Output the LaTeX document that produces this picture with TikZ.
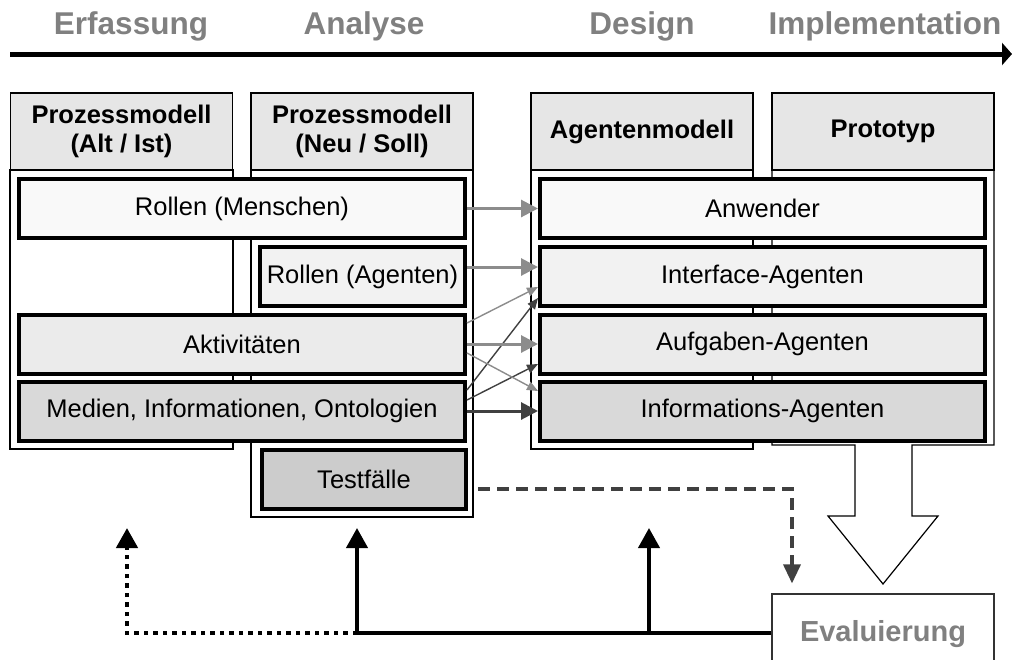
\documentclass[tikz,border=0pt]{standalone}
\usepackage{fontspec}
\setmainfont{Liberation Sans}
\usetikzlibrary{arrows.meta,calc}

\definecolor{titlegray}{HTML}{808080}
\definecolor{headfill}{HTML}{E6E6E6}
\definecolor{fillA}{HTML}{F9F9F9}
\definecolor{fillB}{HTML}{F2F2F2}
\definecolor{fillC}{HTML}{EBEBEB}
\definecolor{fillD}{HTML}{D9D9D9}
\definecolor{fillE}{HTML}{CCCCCC}
\definecolor{linkgray}{HTML}{8C8C8C}
\definecolor{linkdark}{HTML}{404040}

\tikzset{
  phase/.style={anchor=base, text=titlegray, font=\fontsize{31.5}{36}\selectfont\bfseries},
  colhead/.style={draw=black, line width=1.2pt, fill=headfill, minimum width=222pt,
    minimum height=77pt, align=center, inner sep=0pt,
    font=\fontsize{25.5}{29.5}\selectfont\bfseries},
  colbody/.style={draw=black, line width=1.2pt, fill=white},
  itembox/.style={draw=black, line width=4pt, minimum height=59pt, inner sep=0pt,
    font=\fontsize{25.5}{29}\selectfont},
  wide/.style={itembox, minimum width=446pt},
  narrow/.style={itembox, minimum width=205pt},
  thicklink/.style={line width=3pt, -{Triangle[length=17pt,width=17pt]}},
  thinlink/.style={line width=1.4pt, -{Triangle[length=11pt,width=9pt]}},
  feedback/.style={line width=4pt, black},
  uptip/.style={-{Triangle[length=20pt,width=21pt]}},
}

\begin{document}
\begin{tikzpicture}[x=1pt,y=-1pt]
\useasboundingbox (0,0) rectangle (1012,659);

% phase labels and time axis
\node[phase] (p1) at (131,34) {Erfassung};
\node[phase] (p2) at (364,34) {Analyse};
\node[phase] (p3) at (642,34) {Design};
\node[phase] (p4) at (885,34) {Implementation};
\coordinate (axL) at (10,54);
\coordinate (axR) at (1012,54);
\draw[line width=5pt, -{Triangle[length=10pt,width=22pt]}] (axL) -- (axR);

% column bodies
\draw[colbody] (10,170) rectangle (233,449);
\draw[colbody] (251,170) rectangle (473,517);
\draw[colbody] (531,170) rectangle (753,449);
% prototype column ending in a hollow arrow
\draw[colbody, line join=miter] (772,170) -- (772,445) -- (855,445) -- (855,516) -- (828,516)
  -- (883,584) -- (938,516) -- (912,516) -- (912,445) -- (994,445) -- (994,170);

% column headers
\node[colhead] (h1) at (121.5,131.5) {Prozessmodell\\(Alt / Ist)};
\node[colhead] (h2) at (362,131.5) {Prozessmodell\\(Neu / Soll)};
\node[colhead] (h3) at (642,131.5) {Agentenmodell};
\node[colhead] (h4) at (883,131.5) {Prototyp};

% process model elements
\node[wide, fill=fillA] (rm) at (242,208.5) {Rollen (Menschen)};
\node[narrow, fill=fillB] (ra) at (362.5,276.5) {Rollen (Agenten)};
\node[wide, fill=fillC] (akt) at (242,344) {Aktivitäten};
\node[wide, fill=fillD] (med) at (242,411) {Medien, Informationen, Ontologien};
\node[narrow, minimum width=204pt, fill=fillE] (test) at (364,479) {Testfälle};

% agent model elements
\node[wide, minimum width=445pt, fill=fillA] (anw) at (762.5,208.5) {Anwender};
\node[wide, minimum width=445pt, fill=fillB] (ia) at (762.5,276.5) {Interface-Agenten};
\node[wide, minimum width=445pt, fill=fillC] (aa) at (762.5,344) {Aufgaben-Agenten};
\node[wide, minimum width=445pt, fill=fillD] (inf) at (762.5,411) {Informations-Agenten};

% mappings between the models
\draw[thicklink, linkgray] (rm.east) -- (anw.west);
\draw[thicklink, linkgray] ([yshift=9.5pt]ra.east) -- ([yshift=9.5pt]ia.west);
\draw[thinlink, linkgray] ([yshift=21pt]akt.east) -- ([yshift=-10.5pt]ia.west);
\draw[thinlink, linkdark] ([yshift=21pt]med.east) -- ([yshift=-21.5pt]ia.west);
\draw[thicklink, linkgray] (akt.east) -- (aa.west);
\draw[thinlink, linkdark] ([yshift=11pt]med.east) -- ([yshift=-20pt]aa.west);
\draw[thinlink, linkgray] ([yshift=-9pt]akt.east) -- ([yshift=20pt]inf.west);
\draw[thicklink, linkdark] (med.east) -- (inf.west);

% evaluation
\node[draw=black!80, line width=1.2pt, fill=white, minimum width=222pt, minimum height=80pt,
  text=titlegray, font=\fontsize{29}{34}\selectfont\bfseries] (eval) at (883,634) {Evaluierung};

% test cases feed the evaluation
\coordinate (dcorner) at (792,489);
\draw[linkdark, line width=3.5pt, dash pattern=on 12pt off 7pt,
  -{Triangle[length=19pt,width=17pt]}, shorten >=10pt]
  ([xshift=10pt,yshift=-10pt]test.east) -- (dcorner) -- (dcorner |- eval.north);

% feedback from the evaluation
\coordinate (j1) at (357,633);
\coordinate (j2) at (649,633);
\coordinate (t1) at (357,528);
\coordinate (t2) at (649,528);
\coordinate (c0) at (127,633);
\coordinate (t0) at (127,528);
\draw[feedback] (eval.west |- j1) -- (j1);
\draw[feedback, uptip] (j1) -- (t1);
\draw[feedback, uptip] (j2) -- (t2);
\draw[feedback, uptip, dash pattern=on 4.5pt off 5pt, line width=4.5pt] (j1) -- (c0) -- (t0);
\end{tikzpicture}
\end{document}
